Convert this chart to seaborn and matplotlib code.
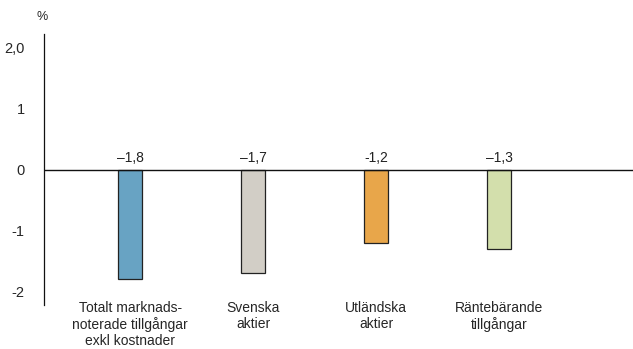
import pandas as pd
import matplotlib
matplotlib.use("Agg")
import matplotlib.pyplot as plt
import seaborn as sns

# data
categories = ["Totalt marknads-\nnoterade tillgångar\nexkl kostnader",
              "Svenska\naktier", "Utländska\naktier", "Räntebärande\ntillgångar"]
values = [-1.8, -1.7, -1.2, -1.3]
value_labels = ["\u20131,8", "\u20131,7", "-1,2", "\u20131,3"]
bar_colors = ["#68a3c3", "#d2cec6", "#e8a64a", "#d3dfac"]
ytick_values = [-2, -1, 0, 1, 2]
ytick_labels = ["-2", "-1", "0", "1", "2,0"]

df = pd.DataFrame({"category": categories, "value": values})

sns.set_style("white")
plt.rcParams["font.family"] = ["Liberation Sans", "DejaVu Sans"]

fig = plt.figure(figsize=(6.33, 3.49), dpi=100)
ax = fig.add_axes([0.0695, 0.126, 0.9305, 0.777])

sns.barplot(data=df, x="category", y="value", hue="category",
            palette=bar_colors, saturation=1, width=0.19, edgecolor="#222222",
            linewidth=0.9, legend=False, ax=ax)

# value labels above the zero line
for i, lab in enumerate(value_labels):
    ax.text(i, 0.07, lab, ha="center", va="bottom", fontsize=10, color="#222222")

ax.axhline(0, color="#111111", linewidth=1.0, zorder=3)

ax.set_xlim(-0.70, 4.09)
ax.set_ylim(-2.22, 2.23)
ax.set_yticks(ytick_values)
ax.set_yticklabels(ytick_labels, fontsize=10.5)
ax.set_xlabel("")
ax.set_ylabel("")
ax.tick_params(axis="y", direction="out", length=6, width=0.9, color="#111111", pad=8)
ax.tick_params(axis="x", length=0, pad=-3, labelsize=10)
for lab in ax.get_xticklabels():
    lab.set_linespacing(1.2)

for side in ["top", "right", "bottom"]:
    ax.spines[side].set_visible(False)
ax.spines["left"].set_linewidth(0.9)
ax.spines["left"].set_color("#111111")

fig.text(42 / 633, 1 - 17 / 349, "%", ha="center", va="center", fontsize=9)

fig.savefig("out.png", dpi=100)
